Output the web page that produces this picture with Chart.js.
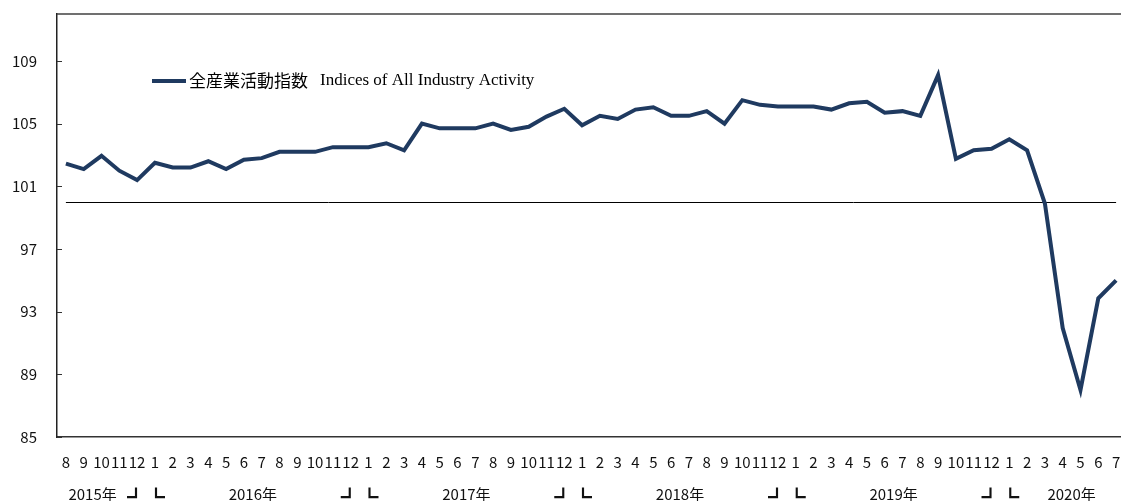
<!DOCTYPE html>
<html>
<head>
<meta charset="utf-8">
<script src="https://cdn.jsdelivr.net/npm/chart.js@4.4.1/dist/chart.umd.min.js"></script>
<style>
  html, body { margin: 0; padding: 0; background: #fff; overflow: hidden; }
  #wrap { position: relative; width: 1125px; height: 501px; }
</style>
</head>
<body>
<div id="wrap"><canvas id="activityChart"></canvas></div>
<script>
// Month labels, Aug 2015 - Jul 2020
const months = [
  '8', '9', '10', '11', '12',
  '1', '2', '3', '4', '5', '6', '7', '8', '9', '10', '11', '12',
  '1', '2', '3', '4', '5', '6', '7', '8', '9', '10', '11', '12',
  '1', '2', '3', '4', '5', '6', '7', '8', '9', '10', '11', '12',
  '1', '2', '3', '4', '5', '6', '7', '8', '9', '10', '11', '12',
  '1', '2', '3', '4', '5', '6', '7'
];
const years = ['2015年', '2016年', '2017年', '2018年', '2019年', '2020年'];

// 全産業活動指数
const activity = [
  102.45, 102.1, 102.95, 102.0, 101.4,
  102.5, 102.2, 102.2, 102.6, 102.1, 102.7, 102.8, 103.2, 103.2, 103.2, 103.5, 103.5,
  103.5, 103.75, 103.3, 105.0, 104.7, 104.7, 104.7, 105.0, 104.6, 104.8, 105.45, 105.95,
  104.9, 105.5, 105.3, 105.9, 106.05, 105.5, 105.5, 105.8, 105.0, 106.5, 106.2, 106.1,
  106.1, 106.1, 105.9, 106.3, 106.4, 105.7, 105.8, 105.5, 108.1, 102.75, 103.3, 103.4,
  104.0, 103.3, 99.9, 91.95, 88.0, 93.85, 95.0
];

const yTicks = [85, 89, 93, 97, 101, 105, 109];
const baseValue = 100;

const LINE_COLOR = '#1f3a60';
const TICK_FONT = '"Noto Sans CJK JP", "Noto Sans", sans-serif';

// Extra drawing: top frame, inner y ticks, base line, year row and legend
const decorations = {
  id: 'decorations',
  beforeDatasetsDraw(chart) {
    const { ctx, scales: { x, y } } = chart;
    const py = Math.round(y.getPixelForValue(baseValue)) + 0.5;
    ctx.save();
    ctx.strokeStyle = '#000';
    ctx.lineWidth = 1;
    ctx.beginPath();
    ctx.moveTo(x.getPixelForValue(0), py);
    ctx.lineTo(x.getPixelForValue(months.length - 1), py);
    ctx.stroke();
    ctx.restore();
  },
  afterDraw(chart) {
    const { ctx, chartArea: a, scales: { x, y } } = chart;
    ctx.save();

    // top frame line
    ctx.strokeStyle = '#404040';
    ctx.lineWidth = 1.5;
    ctx.beginPath();
    ctx.moveTo(a.left, a.top);
    ctx.lineTo(chart.width, a.top);
    ctx.stroke();

    // tick marks point into the plot
    ctx.strokeStyle = '#333';
    ctx.lineWidth = 1;
    y.ticks.forEach(t => {
      const py = Math.round(y.getPixelForValue(t.value)) + 0.5;
      ctx.beginPath();
      ctx.moveTo(a.left, py);
      ctx.lineTo(a.left + 5, py);
      ctx.stroke();
    });

    // year row with bracket marks at each Dec/Jan boundary
    const rowY = 494;
    ctx.fillStyle = '#111';
    ctx.textBaseline = 'middle';
    let start = 0, g = 0;
    for (let i = 0; i < months.length; i++) {
      const last = i === months.length - 1;
      if (months[i] === '12' || last) {
        let c = (start + i) / 2;
        if (g === 0) c -= 0.5;
        if (last) c += 0.5;
        ctx.font = '15px ' + TICK_FONT;
        ctx.textAlign = 'center';
        ctx.fillText(years[g], x.getPixelForValue(c), rowY);
        if (!last) {
          ctx.font = '18px "Noto Sans CJK JP"';
          ctx.fillText('┛', x.getPixelForValue(i) - 1, rowY + 3);
          ctx.fillText('┗', x.getPixelForValue(i + 1) + 1, rowY + 3);
        }
        start = i + 1;
        g++;
      }
    }

    // legend
    const ly = 81;
    ctx.strokeStyle = LINE_COLOR;
    ctx.lineWidth = 4;
    ctx.beginPath();
    ctx.moveTo(152, ly);
    ctx.lineTo(186, ly);
    ctx.stroke();
    ctx.fillStyle = '#000';
    ctx.textAlign = 'left';
    ctx.font = '17px "Noto Sans CJK JP"';
    const jp = '全産業活動指数';
    ctx.fillText(jp, 189, ly);
    const w = ctx.measureText(jp).width;
    ctx.font = '17px "Liberation Serif", "Times New Roman", serif';
    ctx.fillText('Indices of All Industry Activity', 189 + w + 12, ly);

    ctx.restore();
  }
};

const ctx = document.getElementById('activityChart').getContext('2d');
const activityChart = new Chart(ctx, {
  type: 'line',
  data: {
    labels: months,
    datasets: [{
      label: '全産業活動指数 Indices of All Industry Activity',
      data: activity,
      borderColor: LINE_COLOR,
      borderWidth: 4,
      pointRadius: 0,
      tension: 0,
      fill: false
    }]
  },
  options: {
    responsive: true,
    maintainAspectRatio: false,
    animation: false,
    layout: { padding: { top: 14, left: 0, right: 0, bottom: 0 } },
    scales: {
      x: {
        offset: true,
        grid: { display: false },
        border: { display: true, color: '#333', width: 1.5 },
        ticks: {
          autoSkip: false,
          maxRotation: 0,
          padding: 8,
          color: '#111',
          font: { family: TICK_FONT, size: 15 }
        },
        afterFit(s) {
          s.height = 64;
          s.paddingLeft = 0;
          s.paddingRight = 0;
        }
      },
      y: {
        min: 85,
        max: 112,
        grid: { display: false, drawTicks: false },
        border: { display: true, color: '#222', width: 1.5 },
        ticks: {
          padding: 20,
          color: '#111',
          font: { family: TICK_FONT, size: 15 }
        },
        afterBuildTicks(s) { s.ticks = yTicks.map(v => ({ value: v })); },
        afterFit(s) {
          s.width = 57;
          s.paddingTop = 0;
          s.paddingBottom = 0;
        }
      }
    },
    plugins: {
      legend: { display: false },
      tooltip: { enabled: false }
    }
  },
  plugins: [decorations]
});
</script>
</body>
</html>
